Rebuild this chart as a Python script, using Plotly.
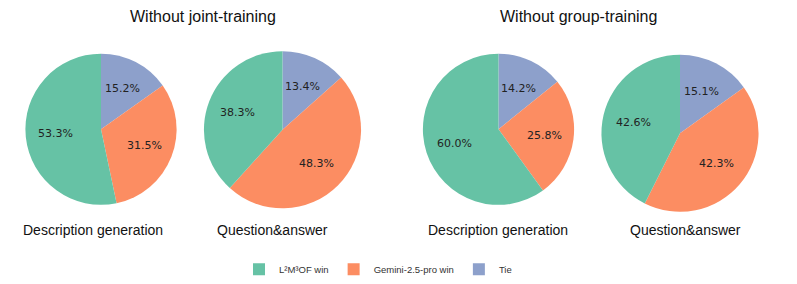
import math
import plotly.graph_objects as go

W, H = 797, 284
OFF = 8  # page body margin in the browser
FW, FH = W - OFF, H - OFF

labels = ["L²M³OF win", "Gemini-2.5-pro win", "Tie"]
colors = ["#66c2a5", "#fc8d62", "#8da0cb"]

joint_desc = [53.3, 31.5, 15.2]
joint_qa = [38.3, 48.3, 13.4]
group_desc = [60.0, 25.8, 14.2]
group_qa = [42.6, 42.3, 15.1]

group_titles = ["Without joint-training", "Without group-training"]
task_titles = ["Description generation", "Question&answer", "Description generation", "Question&answer"]


def px2x(px):
    return (px - OFF) / FW


def py2y(py):
    return 1 - (py - OFF) / FH


# layout (reference pixels): center x, center y, radius
pies = [
    (joint_desc, 101, 131.5, 77),
    (joint_qa, 282.5, 132, 80),
    (group_desc, 498.5, 131.5, 77),
    (group_qa, 680, 135.5, 80),
]

fig = go.Figure()
annotations = []
for i, (vals, cx, cy, r) in enumerate(pies):
    # slices go counterclockwise from 12 o'clock: drawn clockwise in reversed order
    fig.add_trace(go.Pie(
        labels=labels[::-1], values=vals[::-1], sort=False, direction="clockwise",
        rotation=0, textinfo="none", hoverinfo="label+percent",
        marker=dict(colors=colors[::-1], line=dict(width=0)),
        domain=dict(x=[px2x(cx - r), px2x(cx + r)], y=[py2y(cy + r), py2y(cy - r)]),
        showlegend=(i == 0),
    ))
    total = sum(vals)
    start = 90.0
    for v in vals:
        span = 360.0 * v / total
        mid = math.radians(start + span / 2)
        start += span
        px = cx + 0.6 * r * math.cos(mid)
        py = cy - 0.6 * r * math.sin(mid)
        annotations.append(dict(
            x=px2x(px), y=py2y(py), xref="paper", yref="paper", showarrow=False,
            text=f"{v:.1f}%", font=dict(family="DejaVu Sans", size=11, color="#222222"),
            xanchor="center", yanchor="middle",
        ))

title_x = [203, 578]
for t, x in zip(group_titles, title_x):
    annotations.append(dict(x=px2x(x), y=py2y(17), xref="paper", yref="paper", showarrow=False,
                            text=t, font=dict(family="Liberation Sans, Arial", size=16, color="#111111"),
                            xanchor="center", yanchor="middle"))

task_x = [93, 272, 498, 685]
for t, x in zip(task_titles, task_x):
    annotations.append(dict(x=px2x(x), y=py2y(234), xref="paper", yref="paper", showarrow=False,
                            text=t, font=dict(family="Liberation Sans, Arial", size=14, color="#111111"),
                            xanchor="center", yanchor="middle"))

fig.update_layout(
    width=FW, height=FH, margin=dict(l=0, r=0, t=0, b=0),
    paper_bgcolor="white", plot_bgcolor="white",
    annotations=annotations,
    legend=dict(orientation="h", x=px2x(378), xanchor="center", y=py2y(274), yanchor="middle",
                font=dict(family="Liberation Sans, Arial", size=9.5, color="#333333"),
                itemwidth=30, traceorder="reversed"),
)

fig.write_html("out.html")
